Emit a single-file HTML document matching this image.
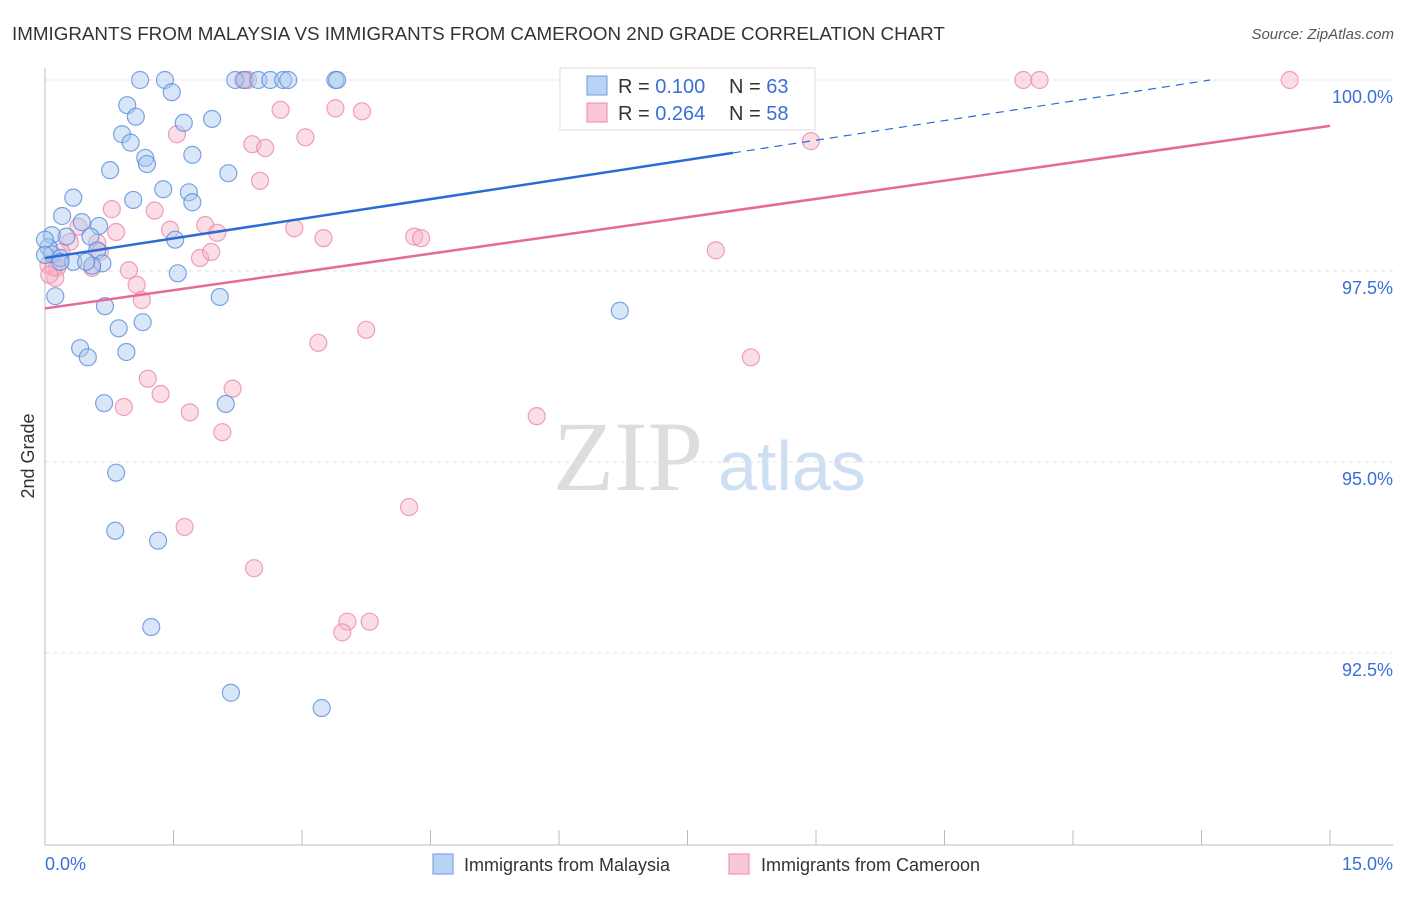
<!DOCTYPE html>
<html><head><meta charset="utf-8"><style>
body{margin:0;background:#fff;font-family:"Liberation Sans",sans-serif;}
</style></head><body>
<svg width="1406" height="892" xmlns="http://www.w3.org/2000/svg" font-family="Liberation Sans, sans-serif">
<text x="12" y="40" font-size="18.8" fill="#333">IMMIGRANTS FROM MALAYSIA VS IMMIGRANTS FROM CAMEROON 2ND GRADE CORRELATION CHART</text>
<text x="1394" y="39" font-size="15" fill="#555" font-style="italic" text-anchor="end">Source: ZipAtlas.com</text>
<g><text x="553" y="490" font-size="100" style="font-family:'Liberation Serif',serif" fill="#ddd">ZIP</text><text x="718" y="490" font-size="70" fill="#cfdff3">atlas</text></g>
<g id="grid"></g>
<g id="axes"></g>
<g id="marks"></g>
<text transform="translate(34,456) rotate(-90)" font-size="18" fill="#333" text-anchor="middle">2nd Grade</text>
<g>
<rect x="560" y="68" width="255" height="62" fill="#fff" stroke="#ddd"/>
<rect x="587" y="76" width="20" height="19" fill="#b9d3f4" stroke="#6a9de0"/>
<rect x="587" y="103" width="20" height="19" fill="#f9c7d6" stroke="#eb8aa9"/>
<text x="618" y="93" font-size="20" fill="#333">R = <tspan fill="#3a6fd8">0.100</tspan></text>
<text x="729" y="93" font-size="20" fill="#333">N = <tspan fill="#3a6fd8">63</tspan></text>
<text x="618" y="120" font-size="20" fill="#333">R = <tspan fill="#3a6fd8">0.264</tspan></text>
<text x="729" y="120" font-size="20" fill="#333">N = <tspan fill="#3a6fd8">58</tspan></text>
</g>
<g>
<rect x="433" y="854" width="20" height="20" fill="#b9d3f4" stroke="#6a9de0"/>
<text x="464" y="871" font-size="18" fill="#333">Immigrants from Malaysia</text>
<rect x="729" y="854" width="20" height="20" fill="#f9c7d6" stroke="#eb8aa9"/>
<text x="761" y="871" font-size="18" fill="#333">Immigrants from Cameroon</text>
</g>
</svg>
<script>
const yTicks=[100,97.5,95,92.5];
const yTickLabels=["100.0%","97.5%","95.0%","92.5%"];
const xTickCount=[0,1.5,3,4.5,6,7.5,9,10.5,12,13.5,15];
const xEndLabels=["0.0%","15.0%"];
const malaysiaX=[1.11,1.40,2.22,2.33,2.49,2.63,2.78,2.84,3.39,3.41,1.48,0.96,1.06,1.62,1.95,0.90,1.00,1.17,1.19,1.72,0.76,2.14,0.33,1.03,1.38,1.68,1.72,0.20,0.43,0.63,0.25,0.08,0.53,1.52,0.04,0.08,0.18,0.33,0.61,0.67,0.55,1.55,0.12,2.04,0.70,1.14,0.86,6.71,0.41,0.50,0.95,0.69,2.11,0.83,0.82,1.32,1.24,2.17,3.23,0.0,0.0,0.18,0.48];
const malaysiaY=[100,100,100,100,100,100,100,100,100,100,99.84,99.67,99.52,99.44,99.49,99.29,99.18,98.98,98.90,99.02,98.82,98.78,98.46,98.43,98.57,98.53,98.40,98.22,98.14,98.09,97.95,97.97,97.95,97.91,97.81,97.72,97.67,97.62,97.77,97.60,97.57,97.47,97.17,97.16,97.04,96.83,96.75,96.98,96.49,96.37,96.44,95.77,95.76,94.86,94.10,93.97,92.84,91.98,91.78,97.91,97.71,97.62,97.62];
const cameroonX=[2.31,2.37,8.66,11.42,11.61,14.53,2.75,3.39,3.70,1.54,3.04,2.42,2.57,8.94,2.51,0.78,1.28,1.46,1.87,2.01,2.91,3.25,4.31,4.39,0.83,0.39,0.29,0.19,0.61,0.64,1.81,1.94,7.83,0.04,0.14,0.55,0.98,1.07,1.13,0.12,3.19,3.75,8.24,1.20,1.35,0.92,1.69,2.19,2.07,5.74,4.25,1.63,2.44,3.53,3.79,3.47,0.1,0.05];
const cameroonY=[100,100,100,100,100,100,99.61,99.63,99.59,99.29,99.25,99.16,99.11,99.20,98.68,98.31,98.29,98.04,98.10,98.00,98.06,97.93,97.95,97.93,98.01,98.08,97.88,97.75,97.87,97.75,97.67,97.75,97.77,97.58,97.54,97.54,97.51,97.32,97.12,97.41,96.56,96.73,96.37,96.09,95.89,95.72,95.65,95.96,95.39,95.60,94.41,94.15,93.61,92.91,92.91,92.77,97.55,97.45];
const malaysiaTrend=[97.67,0.1713];
const cameroonTrend=[97.01,0.1593];
const X=v=>45+v/15*1285, Y=v=>80+(100-v)/2.5*191;
const NS="http://www.w3.org/2000/svg";
function mk(t,a,p){const e=document.createElementNS(NS,t);for(const k in a)e.setAttribute(k,a[k]);p.appendChild(e);return e;}
const grid=document.getElementById('grid'),axes=document.getElementById('axes'),marks=document.getElementById('marks');
yTicks.forEach((t,i)=>{
 const l=mk('line',{x1:45,x2:1393,y1:Y(t),y2:Y(t),stroke:'#e2e2e2','stroke-dasharray':'4,4'},grid);
 
 
 const tx=mk('text',{x:1393,y:Y(t)+23,'font-size':18,fill:'#3a6fd8','text-anchor':'end'},axes);
 tx.textContent=yTickLabels[i];
 
 
});
mk('line',{x1:45,x2:45,y1:68,y2:845,stroke:'#bbb'},axes);
mk('line',{x1:45,x2:1393,y1:845,y2:845,stroke:'#bbb'},axes);
xTickCount.forEach(t=>{const l=mk('line',{x1:X(t),x2:X(t),y1:830,y2:845,stroke:'#bbb'},axes);
 
 });
const a=mk('text',{x:45,y:870,'font-size':18,fill:'#3a6fd8'},axes);a.textContent=xEndLabels[0];


const b=mk('text',{x:1393,y:870,'font-size':18,fill:'#3a6fd8','text-anchor':'end'},axes);b.textContent=xEndLabels[1];


function dots(xs,ys,fill,stroke,name){xs.forEach((x,i)=>{const c=mk('circle',{cx:X(x),cy:Y(ys[i]),r:8.5,fill:fill,'fill-opacity':0.45,stroke:stroke,'stroke-opacity':0.8,'stroke-width':1.2},marks);
 
 });}
dots(cameroonX,cameroonY,'#f7b3c8','#eb8aa9','cameroon-point');
dots(malaysiaX,malaysiaY,'#a9c8f0','#5b8fdc','malaysia-point');
const mEnd=(100-malaysiaTrend[0])/malaysiaTrend[1];
const l1=mk('line',{x1:X(0),y1:Y(malaysiaTrend[0]),x2:X(8.03),y2:Y(malaysiaTrend[0]+malaysiaTrend[1]*8.03),stroke:'#2b6bd6','stroke-width':2.5},marks);


const l2=mk('line',{x1:X(8.03),y1:Y(malaysiaTrend[0]+malaysiaTrend[1]*8.03),x2:X(mEnd),y2:Y(100),stroke:'#2b6bd6','stroke-width':1.2,'stroke-dasharray':'8,6'},marks);


const l3=mk('line',{x1:X(0),y1:Y(cameroonTrend[0]),x2:X(15),y2:Y(cameroonTrend[0]+cameroonTrend[1]*15),stroke:'#e56a95','stroke-width':2.5},marks);


</script>
</body></html>
